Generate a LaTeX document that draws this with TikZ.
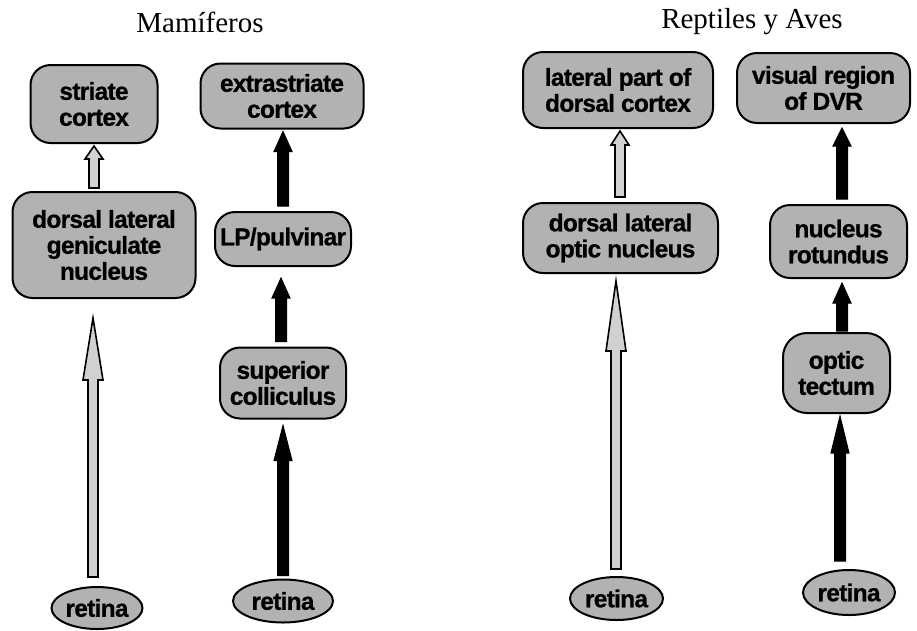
\documentclass[tikz,border=0pt]{standalone}
\usepackage{fontspec}
\newfontfamily\labfont[LetterSpace=-3,FakeBold=0.8]{Liberation Sans Bold}
\newfontfamily\titfont{Liberation Serif}
\usetikzlibrary{shapes.geometric,calc}
% #1 style, #2 source node, #3 target node, #4 dx, #5 gap at source, #6 gap at target
% (#4-#6 are plain numbers in picture units), #7 half shaft width, #8 half head width, #9 head length
\newcommand\fatarrow[9]{%
  \draw[#1] let \p1=($(#2.north)+(#4,-#5)$), \p2=($(#3.south)+(#4,#6)$) in
    (\x1-#7,\y1) -- (\x1-#7,\y2-#9) -- (\x1-#8,\y2-#9) -- (\x1,\y2)
    -- (\x1+#8,\y2-#9) -- (\x1+#7,\y2-#9) -- (\x1+#7,\y1) -- cycle;}
\tikzset{
  box/.style={draw=black, line width=2pt, fill=black!30, rounded corners=20pt,
    align=center, inner sep=0pt,
    font=\labfont\fontsize{24.5}{26}\selectfont},
  oval/.style={ellipse, draw=black, line width=2pt, fill=black!30, inner sep=0pt,
    font=\labfont\fontsize{24.5}{26}\selectfont},
  title/.style={font=\titfont\fontsize{29}{30}\selectfont, inner sep=0pt},
  grayarrow/.style={draw=black, line width=1.6pt, fill=black!18, line join=miter},
  blackarrow/.style={draw=black, line width=1pt, fill=black, line join=miter}
}
\begin{document}
\begin{tikzpicture}[x=1pt,y=-1pt]
\useasboundingbox (0,0) rectangle (917,630);
% titles
\node[title] (tmam) at (200,22) {Mamíferos};
\node[title] (trep) at (752,22) {Reptiles y Aves};
% left: mammals
\node[box, minimum width=127pt, minimum height=78pt] (stri) at (94,104) {striate\\cortex};
\node[box, minimum width=183pt, minimum height=106pt] (dlgn) at (104,245) {dorsal lateral\\geniculate\\nucleus};
\node[oval, minimum width=91pt, minimum height=42pt] (retA) at (97,608) {retina};
\node[box, minimum width=163pt, minimum height=65pt] (extra) at (282,96) {extrastriate\\cortex};
\node[box, minimum width=136pt, minimum height=54pt] (lp) at (283,239) {LP/pulvinar};
\node[box, minimum width=126pt, minimum height=71pt] (sc) at (283,383) {superior\\colliculus};
\node[oval, minimum width=100pt, minimum height=43pt] (retB) at (283,601) {retina};
% right: reptiles and birds
\node[box, minimum width=190pt, minimum height=76pt] (lat) at (618,90) {lateral part of\\dorsal cortex};
\node[box, minimum width=195pt, minimum height=70pt] (dlon) at (620.5,238) {dorsal lateral\\optic nucleus};
\node[oval, minimum width=93pt, minimum height=43pt] (retC) at (616.5,598.5) {retina};
\node[box, minimum width=173pt, minimum height=70pt] (vis) at (823.5,88) {visual region\\of DVR};
\node[box, minimum width=137pt, minimum height=73pt] (rot) at (838.5,241.5) {nucleus\\rotundus};
\node[box, minimum width=107pt, minimum height=80pt, rounded corners=24pt] (tec) at (836.5,373) {optic\\tectum};
\node[oval, minimum width=92pt, minimum height=45pt] (retD) at (849,592.5) {retina};
% arrows, left
\fatarrow{grayarrow}{dlgn}{stri}{-10}{3}{2}{5pt}{9pt}{13pt}
\fatarrow{grayarrow}{retA}{dlgn}{-4}{9}{19}{5pt}{10pt}{62pt}
\fatarrow{blackarrow}{lp}{extra}{0}{5}{2}{5.5pt}{9pt}{20pt}
\fatarrow{blackarrow}{sc}{lp}{-2}{5}{11}{5.5pt}{9pt}{20pt}
\fatarrow{blackarrow}{retB}{sc}{0}{3}{6}{5.5pt}{9pt}{35pt}
% arrows, right
\fatarrow{grayarrow}{dlon}{lat}{-0.5}{5}{2}{5pt}{9pt}{14pt}
\fatarrow{grayarrow}{retC}{dlon}{-0.5}{7}{7}{5pt}{10pt}{70pt}
\fatarrow{blackarrow}{rot}{vis}{3.5}{5}{4}{5.5pt}{9pt}{18pt}
\fatarrow{blackarrow}{tec}{rot}{5.5}{1}{4}{5.5pt}{9pt}{20pt}
\fatarrow{blackarrow}{retD}{tec}{-9}{8}{2}{5.5pt}{9pt}{37pt}
\end{tikzpicture}
\end{document}
